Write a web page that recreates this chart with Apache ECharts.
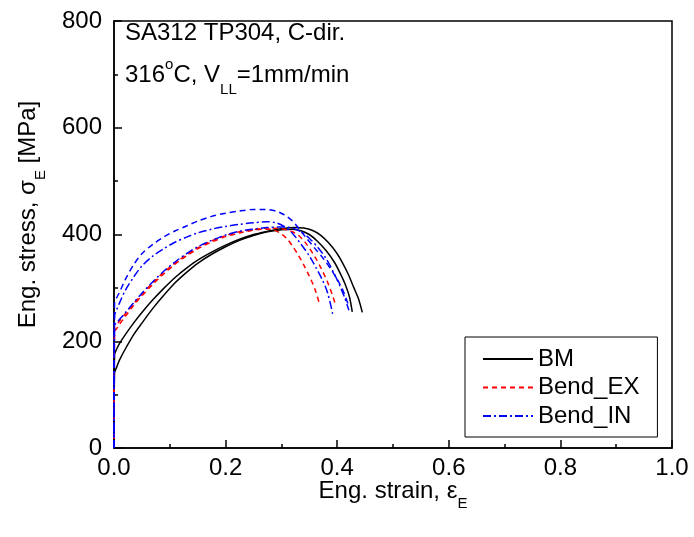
<!DOCTYPE html>
<html>
<head>
<meta charset="utf-8">
<script src="https://cdn.jsdelivr.net/npm/echarts@6/dist/echarts.min.js"></script>
<style>
html,body{margin:0;padding:0;background:#fff;}
#chart{width:694px;height:537px;}
</style>
</head>
<body>
<div id="chart"></div>
<script>
// ---- data ----
var bmA_strain = [0, 0.001, 0.005, 0.01, 0.02, 0.035, 0.05, 0.07, 0.09, 0.11, 0.13, 0.15, 0.175, 0.2, 0.225, 0.25, 0.275, 0.3, 0.325, 0.34, 0.355, 0.37, 0.385, 0.4, 0.41, 0.42, 0.43, 0.438, 0.445];
var bmA_stress = [0, 175, 186, 196, 212, 234, 254, 278, 300, 320, 337, 352, 367, 380, 391, 400, 406, 411, 413, 412, 408, 399, 384, 364, 346, 325, 300, 280, 254];
var bmB_strain = [0, 0.001, 0.005, 0.01, 0.02, 0.035, 0.05, 0.07, 0.09, 0.11, 0.13, 0.15, 0.175, 0.2, 0.225, 0.25, 0.275, 0.3, 0.32, 0.335, 0.35, 0.365, 0.38, 0.395, 0.405, 0.415, 0.422, 0.427];
var bmB_stress = [0, 140, 152, 165, 185, 212, 234, 262, 287, 310, 329, 346, 363, 377, 389, 398, 405, 409, 410, 407, 400, 387, 370, 348, 328, 305, 283, 255];

var exA_strain = [0, 0.001, 0.005, 0.01, 0.02, 0.035, 0.05, 0.07, 0.09, 0.11, 0.13, 0.15, 0.175, 0.2, 0.225, 0.25, 0.27, 0.285, 0.3, 0.31, 0.32, 0.33, 0.34, 0.35, 0.36, 0.369];
var exA_stress = [0, 218, 224, 232, 246, 267, 285, 307, 327, 345, 360, 373, 386, 396, 403, 408, 410, 409, 401, 392, 378, 362, 343, 322, 298, 267];
var exB_strain = [0, 0.001, 0.005, 0.01, 0.02, 0.035, 0.05, 0.07, 0.09, 0.11, 0.13, 0.15, 0.175, 0.2, 0.225, 0.25, 0.275, 0.3, 0.315, 0.33, 0.345, 0.36, 0.372, 0.383, 0.392, 0.397];
var exB_stress = [0, 226, 231, 238, 251, 270, 288, 310, 330, 347, 362, 375, 388, 398, 405, 409, 412, 411, 407, 399, 382, 358, 335, 310, 285, 268];

var inA_strain = [0, 0.001, 0.005, 0.01, 0.02, 0.035, 0.05, 0.07, 0.09, 0.11, 0.13, 0.15, 0.175, 0.2, 0.225, 0.25, 0.275, 0.29, 0.305, 0.32, 0.335, 0.35, 0.362, 0.373, 0.383, 0.393];
var inA_stress = [0, 248, 260, 272, 295, 320, 341, 360, 374, 386, 395, 403, 410, 415, 419, 422, 424, 422, 415, 402, 382, 360, 338, 316, 290, 246];
var inB_strain = [0, 0.001, 0.005, 0.01, 0.02, 0.035, 0.05, 0.07, 0.09, 0.11, 0.13, 0.15, 0.175, 0.2, 0.225, 0.25, 0.27, 0.29, 0.305, 0.32, 0.333, 0.345, 0.36, 0.375, 0.39, 0.4, 0.41, 0.42];
var inB_stress = [0, 272, 282, 292, 315, 343, 364, 382, 396, 407, 416, 425, 434, 440, 444, 447, 447, 444, 437, 425, 409, 393, 374, 355, 333, 316, 296, 268];
var inC_strain = [0, 0.001, 0.005, 0.01, 0.02, 0.035, 0.05, 0.07, 0.09, 0.11, 0.13, 0.15, 0.175, 0.2, 0.225, 0.25, 0.275, 0.3, 0.32, 0.335, 0.35, 0.365, 0.38, 0.393, 0.405, 0.414, 0.421];
var inC_stress = [0, 230, 235, 241, 253, 272, 290, 312, 332, 349, 364, 377, 389, 399, 406, 410, 413, 414, 412, 405, 393, 376, 355, 330, 303, 280, 258];

var legendNames = ['BM', 'Bend_EX', 'Bend_IN'];

function pairs(xs, ys) { return xs.map(function (x, i) { return [x, ys[i]]; }); }

var FONT = '"Liberation Sans", Arial, sans-serif';
var styles = {
  bm: { color: '#000000', width: 1.5, type: 'solid' },
  ex: { color: '#ff0000', width: 1.5, type: [5, 4] },
  inDD: { color: '#0000ff', width: 1.5, type: [8, 3, 2, 3] },
  inD: { color: '#0000ff', width: 1.5, type: [6, 4] }
};
function mk(name, xs, ys, st) {
  return {
    name: name, type: 'line', data: pairs(xs, ys), symbol: 'none', smooth: 0.3,
    lineStyle: { color: st.color, width: st.width, type: st.type },
    itemStyle: { color: st.color }, animation: false, z: 3
  };
}

var chart = echarts.init(document.getElementById('chart'), null, { renderer: 'canvas' });
chart.setOption({
  backgroundColor: '#ffffff',
  animation: false,
  textStyle: { fontFamily: FONT, color: '#000' },
  grid: { left: 114, right: 22, top: 21, bottom: 89, show: true, borderColor: '#000', borderWidth: 1.5 },
  title: {
    left: 120, top: 16,
    text: 'SA312 TP304, C-dir.',
    textStyle: { fontFamily: FONT, fontSize: 24, fontWeight: 'normal', color: '#000' }
  },
  graphic: [{
    type: 'text', left: 125, top: 57, z: 10,
    style: {
      text: '{a|316}{sup|o}{a|C, V}{sub|LL}{a|=1mm/min}',
      rich: {
        a: { fontFamily: FONT, fontSize: 24, color: '#000', lineHeight: 30, verticalAlign: 'bottom' },
        sup: { fontFamily: FONT, fontSize: 15, color: '#000', verticalAlign: 'top', lineHeight: 30, padding: [0, 0, 0, 0] },
        sub: { fontFamily: FONT, fontSize: 15, color: '#000', verticalAlign: 'bottom', lineHeight: 30, padding: [0, 0, -10, 0] }
      }
    }
  }],
  legend: {
    data: legendNames,
    orient: 'vertical',
    left: 465, top: 337,
    padding: [10, 18, 9, 17],
    itemWidth: 50, itemHeight: 14, itemGap: 4.5,
    itemStyle: { opacity: 0 },
    borderColor: '#000', borderWidth: 1,
    textStyle: { fontFamily: FONT, fontSize: 24, color: '#000', lineHeight: 24 },
    backgroundColor: '#fff'
  },
  xAxis: {
    type: 'value', min: 0, max: 1.0, interval: 0.2,
    name: '{a|Eng. strain, ε}{sub|E}',
    nameLocation: 'middle', nameGap: 27, nameMoveOverlap: false,
    nameTextStyle: {
      rich: {
        a: { fontFamily: FONT, fontSize: 24, color: '#000', verticalAlign: 'bottom', lineHeight: 28 },
        sub: { fontFamily: FONT, fontSize: 15, color: '#000', verticalAlign: 'bottom', lineHeight: 28, padding: [0, 0, -8, 0] }
      }
    },
    axisLine: { lineStyle: { color: '#000', width: 1.5 } },
    axisTick: { inside: true, length: 8, lineStyle: { color: '#000', width: 1.5 } },
    minorTick: { show: true, splitNumber: 2, length: 4, lineStyle: { color: '#000', width: 1.5 } },
    axisLabel: { fontFamily: FONT, fontSize: 24, color: '#000', margin: 8,
      formatter: function (v) { return v.toFixed(1); } },
    splitLine: { show: false }
  },
  yAxis: {
    type: 'value', min: 0, max: 800, interval: 200,
    name: '{a|Eng. stress, σ}{sub|E}{a| [MPa]}',
    nameLocation: 'middle', nameGap: 74, nameRotate: 90, nameMoveOverlap: false,
    nameTextStyle: {
      padding: [0, 0, 0, 40],
      rich: {
        a: { fontFamily: FONT, fontSize: 24, color: '#000', verticalAlign: 'bottom', lineHeight: 28 },
        sub: { fontFamily: FONT, fontSize: 15, color: '#000', verticalAlign: 'bottom', lineHeight: 28, padding: [0, 0, -8, 0] }
      }
    },
    axisLine: { lineStyle: { color: '#000', width: 1.5 } },
    axisTick: { inside: true, length: 8, lineStyle: { color: '#000', width: 1.5 } },
    minorTick: { show: true, splitNumber: 2, length: 4, lineStyle: { color: '#000', width: 1.5 } },
    axisLabel: { fontFamily: FONT, fontSize: 24, color: '#000', margin: 12 },
    splitLine: { show: false }
  },
  series: [
    mk('BM', bmA_strain, bmA_stress, styles.bm),
    mk('BM', bmB_strain, bmB_stress, styles.bm),
    mk('Bend_EX', exA_strain, exA_stress, styles.ex),
    mk('Bend_EX', exB_strain, exB_stress, styles.ex),
    mk('Bend_IN', inA_strain, inA_stress, styles.inDD),
    mk('Bend_IN', inB_strain, inB_stress, styles.inD),
    mk('Bend_IN', inC_strain, inC_stress, styles.inDD)
  ]
});
</script>
</body>
</html>
